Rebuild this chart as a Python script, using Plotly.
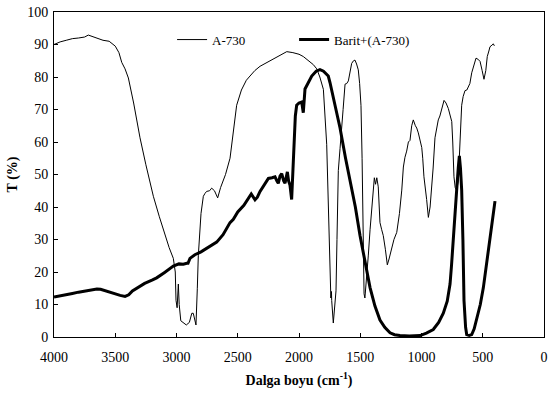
import plotly.graph_objects as go

a730_wn = [4000, 3950, 3900, 3850, 3800, 3750, 3720, 3680, 3640, 3600, 3550, 3500, 3470, 3447, 3420, 3393,
           3350, 3298, 3250, 3189, 3140, 3094, 3060, 3026, 3010, 3004, 2995, 2985, 2978, 2965, 2945, 2920,
           2895, 2875, 2863, 2850, 2841, 2830, 2822, 2800, 2781, 2767, 2754, 2730, 2713, 2690, 2664, 2640,
           2600, 2563, 2540, 2509, 2470, 2430, 2400, 2360, 2318, 2260, 2210, 2155, 2100, 2050, 2000, 1965,
           1937, 1900, 1883, 1855, 1830, 1801, 1785, 1774, 1760, 1750, 1747, 1740, 1735, 1733, 1720, 1710,
           1698, 1690, 1679, 1665, 1652, 1640, 1624, 1610, 1597, 1585, 1570, 1555, 1543, 1530, 1516, 1505,
           1494, 1485, 1480, 1472, 1469, 1462, 1455, 1445, 1434, 1420, 1407, 1395, 1385, 1375, 1365, 1353,
           1345, 1339, 1325, 1312, 1295, 1279, 1265, 1243, 1225, 1202, 1180, 1161, 1148, 1135, 1121, 1107,
           1094, 1080, 1067, 1050, 1039, 1026, 1010, 998, 990, 980, 958, 944, 930, 917, 905, 890,
           875, 863, 850, 835, 816, 800, 781, 765, 753, 745, 735, 725, 713, 700, 691, 680,
           672, 660, 645, 630, 618, 605, 590, 575, 555, 540, 522, 505, 490, 475, 463, 450,
           441, 425, 414, 405]
a730_t = [90.0, 90.8, 91.3, 91.8, 92.0, 92.3, 92.9, 92.3, 91.8, 91.3, 91.0, 89.5, 87.5, 84.5, 82.5, 79.7,
          72, 61.3, 53, 43.3, 37, 31.3, 27.5, 24.2, 20, 11.3, 9, 16.3, 10, 5, 4.3, 3.7,
          4.5, 7.3, 7.3, 4.5, 3.7, 15, 25, 38, 43.3, 44.2, 44.8, 45, 45.8, 45, 42.8, 46,
          50, 55, 62, 71.3, 76, 79, 80.3, 82, 83.3, 84.5, 85.3, 86.5, 87.8, 87.5, 87, 86.3,
          85.5, 84.5, 83.8, 82.5, 80, 76.2, 68, 59.3, 40, 25, 21.2, 12, 14, 11.2, 4.3, 8,
          14.2, 30, 51.2, 58, 63.2, 70, 77.8, 78, 78.8, 81, 84.2, 85, 85.2, 84, 82.2, 78,
          71.2, 55, 41.2, 25, 13.3, 12, 15, 20, 25.2, 33, 39.2, 45, 49, 47, 49, 46.2,
          40, 35.2, 33, 31.2, 27, 22.2, 24, 27.2, 30, 32.2, 38, 45.2, 52.3, 55.3, 57.2, 60,
          60.5, 65, 66.8, 65, 64.3, 62.8, 60, 58.3, 55, 49.3, 42.3, 36.8, 40, 45.2, 52, 61.3,
          65, 66.8, 68, 70.3, 72.8, 72, 70.3, 68, 66.3, 60, 49.3, 46, 45.2, 48, 55.3, 65,
          71.3, 74, 75.8, 76, 76.8, 78, 81.3, 83, 85.8, 85.5, 84.8, 82, 79.3, 82, 86.3, 88,
          89.3, 89.8, 90.2, 89.6]

barit_wn = [4000, 3950, 3900, 3850, 3800, 3750, 3700, 3650, 3620, 3580, 3543, 3500, 3460, 3420, 3390, 3360,
            3312, 3260, 3200, 3162, 3100, 3050, 3026, 2980, 2944, 2917, 2906, 2890, 2850, 2800, 2754, 2700,
            2672, 2620, 2563, 2536, 2500, 2450, 2414, 2390, 2359, 2340, 2318, 2280, 2250, 2220, 2196, 2180,
            2169, 2155, 2141, 2125, 2114, 2105, 2095, 2085, 2074, 2060, 2050, 2040, 2030, 2019, 2000, 1978,
            1965, 1951, 1930, 1896, 1860, 1829, 1800, 1761, 1747, 1700, 1665, 1620, 1584, 1540, 1502, 1460,
            1420, 1380, 1339, 1300, 1257, 1220, 1176, 1100, 1050, 1012, 960, 904, 860, 822, 790, 767,
            755, 740, 725, 713, 700, 691, 682, 672, 662, 653, 640, 631, 610, 590, 570, 550,
            520, 495, 470, 441, 420, 400]
barit_t = [12.3, 12.6, 13.0, 13.4, 13.8, 14.2, 14.4, 14.8, 14.7, 14.2, 13.7, 13.2, 12.8, 12.5, 13, 14.2,
           15.4, 16.5, 17.5, 18.2, 19.8, 21, 21.8, 22.5, 22.4, 22.7, 22.7, 24.2, 25.3, 26.2, 27.2, 28.5,
           29.2, 31.5, 35.2, 36.2, 38.5, 40.5, 42.8, 44, 42.2, 43, 44.8, 47, 48.8, 49, 49.3, 48,
           47.3, 49.5, 50.3, 48, 47.3, 49, 50.8, 48, 46.8, 42.3, 50, 62, 68, 71.3, 72, 72.3,
           69, 76.3, 78, 80.3, 81.8, 82.3, 81.8, 80.3, 78.3, 70, 64.3, 55, 48.2, 40, 31.2, 23,
           15.2, 9.5, 5.2, 3, 1.3, 0.7, 0.45, 0.3, 0.4, 0.45, 1.2, 2.3, 4.5, 7.3, 11, 16.3,
           22, 31.3, 39, 45.2, 52, 55.7, 52, 45.2, 30, 11.2, 3, 0.75, 0.5, 0.75, 2.5, 5.2,
           10, 15.2, 22, 29.2, 35.5, 41.8]

x_ticks = [4000, 3500, 3000, 2500, 2000, 1500, 1000, 500, 0]
y_ticks = [0, 10, 20, 30, 40, 50, 60, 70, 80, 90, 100]

serif = "Liberation Serif, Times New Roman, serif"

fig = go.Figure()
fig.add_trace(go.Scatter(x=a730_wn, y=a730_t, mode="lines", name="A-730",
                         line=dict(color="black", width=1)))
fig.add_trace(go.Scatter(x=barit_wn, y=barit_t, mode="lines", name="Barit+(A-730)",
                         line=dict(color="black", width=3)))

axis_common = dict(showline=True, linecolor="black", linewidth=1, mirror=True,
                   ticks="inside", ticklen=4, tickcolor="black", showgrid=False, zeroline=False,
                   ticklabeloverflow="allow",
                   tickfont=dict(family=serif, size=14, color="black"))

fig.update_xaxes(range=[4000, 0], tickvals=x_ticks, ticktext=[str(v) for v in x_ticks],
                 ticklabelstandoff=7,
                 title=dict(text="<b>Dalga boyu (cm<sup>-1</sup>)</b>",
                            font=dict(family=serif, size=14, color="black"), standoff=11),
                 **axis_common)
fig.update_yaxes(range=[0, 100], tickvals=y_ticks, ticktext=[str(v) for v in y_ticks],
                 ticklabelstandoff=2,
                 title=dict(text="<b>T (%)</b>", font=dict(family=serif, size=14, color="black"),
                            standoff=6),
                 **axis_common)

fig.update_layout(
    width=555, height=394,
    margin=dict(l=54, r=11, t=5, b=57),
    paper_bgcolor="white", plot_bgcolor="white",
    showlegend=True,
    legend=dict(orientation="h", x=0.241, y=0.915, xanchor="left", yanchor="middle",
                bgcolor="rgba(0,0,0,0)", font=dict(family=serif, size=13, color="black"),
                entrywidth=77, entrywidthmode="pixels", itemwidth=30),
)

fig.write_html("out.html")
